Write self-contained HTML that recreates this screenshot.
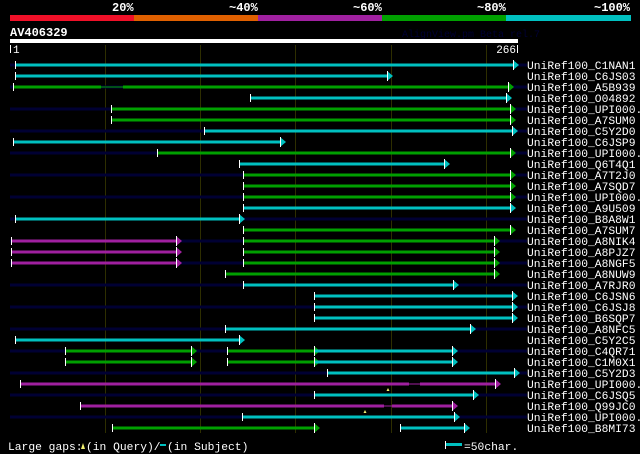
<!DOCTYPE html>
<html><head><meta charset="utf-8"><style>
html,body{margin:0;padding:0;background:#000;width:640px;height:454px;overflow:hidden}
svg{display:block}
text{font-family:"Liberation Mono","DejaVu Sans Mono",monospace;fill:#fff}
</style></head><body>
<svg id="s" width="640" height="454" viewBox="0 0 640 454" xmlns="http://www.w3.org/2000/svg">
<rect width="640" height="454" fill="#000"/>
<g font-weight="bold" font-size="12">
<text x="112" y="11">20%</text>
<text x="229" y="11">~40%</text>
<text x="353" y="11">~60%</text>
<text x="477" y="11">~80%</text>
<text x="594" y="11">~100%</text>
</g>
<rect x="10" y="15" width="124" height="6" fill="#f01028"/>
<rect x="134" y="15" width="124" height="6" fill="#e06000"/>
<rect x="258" y="15" width="124" height="6" fill="#a020a0"/>
<rect x="382" y="15" width="124" height="6" fill="#00a000"/>
<rect x="506" y="15" width="125" height="6" fill="#00c0c0"/>
<text x="10" y="36" font-weight="bold" font-size="12">AV406329</text>
<text x="402" y="37" font-size="10" style="fill:#000033">AlignView.pm Beta rel.7</text>
<rect x="10" y="39" width="508" height="4" fill="#fff"/>
<rect x="10" y="45" width="1" height="8" fill="#fff"/>
<text x="13" y="53" font-size="11">1</text>
<text x="516" y="53" font-size="11" text-anchor="end">266</text>
<rect x="517" y="45" width="1" height="8" fill="#fff"/>
<g id="grid"></g>
<g id="bars"></g>
<g font-size="11.3">
<text x="527" y="69">UniRef100_C1NAN1</text>
<text x="527" y="80">UniRef100_C6JS03</text>
<text x="527" y="91">UniRef100_A5B939</text>
<text x="527" y="102">UniRef100_O04892</text>
<text x="527" y="113">UniRef100_UPI000..</text>
<text x="527" y="124">UniRef100_A7SUM0</text>
<text x="527" y="135">UniRef100_C5Y2D0</text>
<text x="527" y="146">UniRef100_C6JSP9</text>
<text x="527" y="157">UniRef100_UPI000..</text>
<text x="527" y="168">UniRef100_Q6T4Q1</text>
<text x="527" y="179">UniRef100_A7T2J0</text>
<text x="527" y="190">UniRef100_A7SQD7</text>
<text x="527" y="201">UniRef100_UPI000..</text>
<text x="527" y="212">UniRef100_A9U509</text>
<text x="527" y="223">UniRef100_B8A8W1</text>
<text x="527" y="234">UniRef100_A7SUM7</text>
<text x="527" y="245">UniRef100_A8NIK4</text>
<text x="527" y="256">UniRef100_A8PJZ7</text>
<text x="527" y="267">UniRef100_A8NGF5</text>
<text x="527" y="278">UniRef100_A8NUW9</text>
<text x="527" y="289">UniRef100_A7RJR0</text>
<text x="527" y="300">UniRef100_C6JSN6</text>
<text x="527" y="311">UniRef100_C6JSJ8</text>
<text x="527" y="322">UniRef100_B6SQP7</text>
<text x="527" y="333">UniRef100_A8NFC5</text>
<text x="527" y="344">UniRef100_C5Y2C5</text>
<text x="527" y="355">UniRef100_C4QR71</text>
<text x="527" y="366">UniRef100_C1M0X1</text>
<text x="527" y="377">UniRef100_C5Y2D3</text>
<text x="527" y="388">UniRef100_UPI000..</text>
<text x="527" y="399">UniRef100_C6JSQ5</text>
<text x="527" y="410">UniRef100_Q99JC0</text>
<text x="527" y="421">UniRef100_UPI000..</text>
<text x="527" y="432">UniRef100_B8MI73</text>
</g>
<g font-size="11.3">
<text x="8" y="450">Large gaps:</text>
<path d="M81,449 l2,-6 l2,6z" fill="#f0f070"/>
<text x="86" y="450">(in Query)/</text>
<rect x="160" y="444" width="6" height="2" fill="#00c0c0"/>
<text x="167" y="450"> (in Subject)</text>
<rect x="445" y="441" width="1" height="8" fill="#fff"/>
<rect x="446" y="443" width="16" height="3" fill="#00c0c0"/>
<text x="464" y="450">=50char.</text>
</g>
</svg>
<script>
var NS="http://www.w3.org/2000/svg";
function el(p,t,a){var e=document.createElementNS(NS,t);for(var k in a)e.setAttribute(k,a[k]);p.appendChild(e);return e;}
var g=document.getElementById('grid');
[105,200,295,391,486].forEach(function(x){el(g,'rect',{x:x,y:45,width:1,height:388,fill:'#2e2e00'});});
var b=document.getElementById('bars');
var C='#00c0c0',G='#00a000',M='#a020a0';
// row, color, x1, x2, tick, arrow
var S=[
[0,C,15,513,1,1],[1,C,15,387,1,1],[2,G,13,101,1,0],[2,'t'+G,101,123],[2,G,123,508,0,1],
[3,C,250,506,1,1],[4,G,111,510,1,1],[5,G,111,510,1,1],[6,C,204,512,1,1],[7,C,13,280,1,1],
[8,G,157,510,1,1],[9,C,239,444,1,1],[10,G,243,510,1,1],[11,G,243,510,1,1],[12,G,243,510,1,1],
[13,C,243,510,1,1],[14,C,15,239,1,1],[15,G,243,510,1,1],
[16,M,11,176,1,1],[16,G,243,494,1,1],[17,M,11,176,1,1],[17,G,243,494,1,1],[18,M,11,176,1,1],[18,G,243,494,1,1],
[19,G,225,494,1,1],[20,C,243,453,1,1],[21,C,314,512,1,1],[22,C,314,512,1,1],[23,C,314,512,1,1],
[24,C,225,470,1,1],[25,C,15,239,1,1],
[26,G,65,191,1,1],[26,G,227,314,1,1],[26,C,314,452,1,1],
[27,G,65,191,1,1],[27,G,227,314,1,1],[27,C,314,452,1,1],
[28,C,327,514,1,1],[29,M,20,409,1,0],[29,'t'+M,409,420],[29,M,420,495,0,1],
[30,C,314,473,1,1],[31,M,80,384,1,0],[31,'t'+M,384,392],[31,M,392,452,0,1],
[32,C,242,454,1,1],[33,G,112,314,1,1],[33,C,400,464,1,1]];
var navy=[0,2,4,6,8,10,12,14,16,18,20,22,24,26,28,30,32];
navy.forEach(function(r){var y=65+11*r;el(b,'rect',{x:10,y:y-1.5,width:517,height:3,fill:'#000033'});});
S.forEach(function(s){
 var y=65+11*s[0],c=s[1];
 if(c[0]=='t'){el(b,'rect',{x:s[2],y:y-0.5,width:s[3]-s[2],height:1,fill:c.slice(1)});return;}
 el(b,'rect',{x:s[2],y:y-1.5,width:s[3]-s[2],height:3,fill:c});
 if(s[4])el(b,'rect',{x:s[2],y:y-4,width:1,height:8,fill:'#fff'});
 if(s[5]){el(b,'path',{d:'M'+s[3]+','+(y-5)+' l6,5 l-6,5z',fill:c});el(b,'rect',{x:s[3],y:y-5,width:1,height:10,fill:'#fff'});}
});
[[29,388],[31,365]].forEach(function(m){var y=65+11*m[0];el(b,'path',{d:'M'+(m[1]-1.5)+','+(y+7)+' l1.5,-3 l1.5,3z',fill:'#f0f070'});});
</script>
</body></html>
